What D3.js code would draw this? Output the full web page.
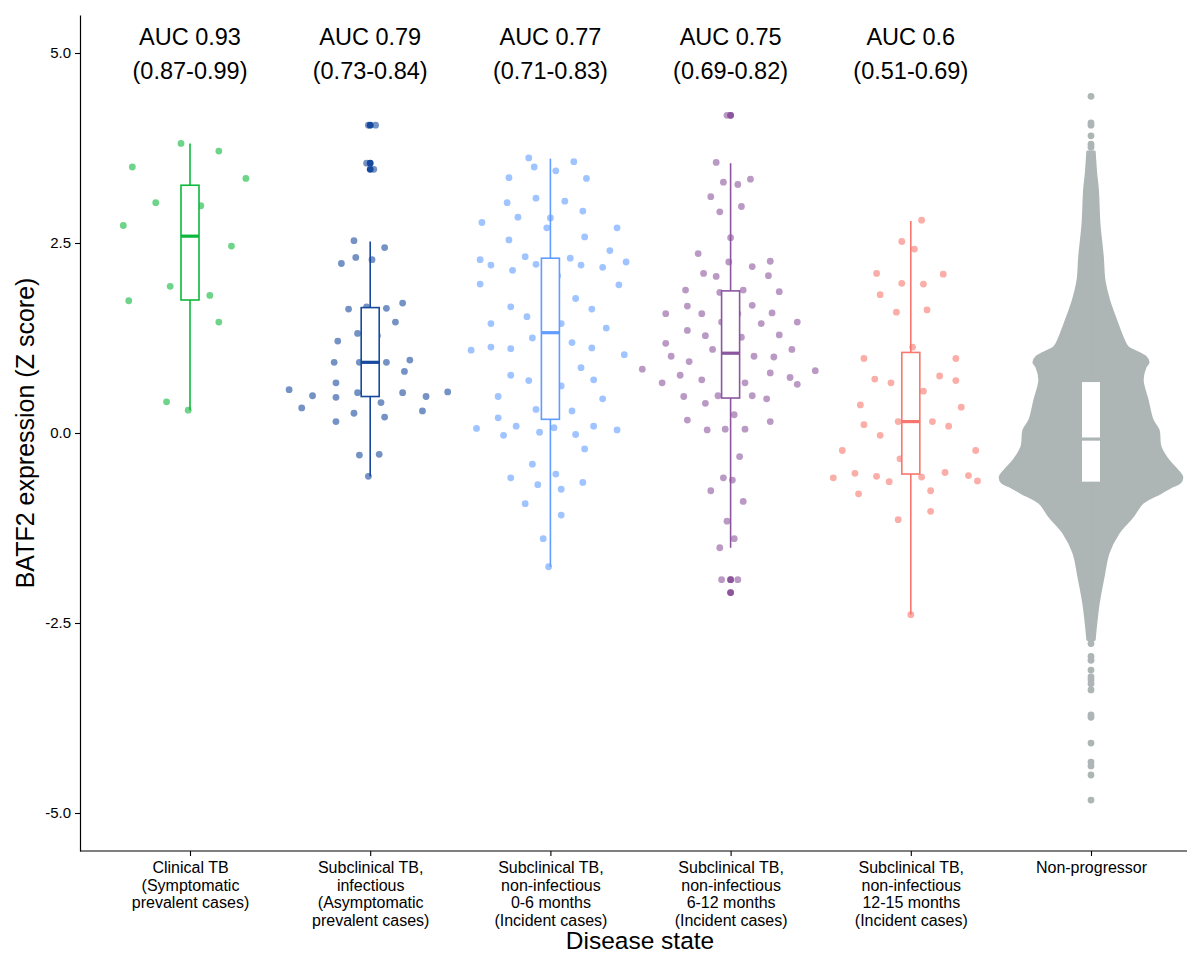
<!DOCTYPE html>
<html>
<head>
<meta charset="utf-8">
<script src="https://cdn.jsdelivr.net/npm/d3@7/dist/d3.min.js"></script>
<style>
  body { margin: 0; background: #ffffff; }
  svg { display: block; }
  text { font-family: "Liberation Sans", Arial, Helvetica, sans-serif; }
</style>
</head>
<body>
<svg id="chart" width="1187" height="955"></svg>
<script>
// ---------------- DATA ----------------
const categories = ["clinical", "subInfectious", "nonInf0to6", "nonInf6to12", "nonInf12to15", "nonProgressor"];
const categoryLabels = [
  ["Clinical TB", "(Symptomatic", "prevalent cases)"],
  ["Subclinical TB,", "infectious", "(Asymptomatic", "prevalent cases)"],
  ["Subclinical TB,", "non-infectious", "0-6 months", "(Incident cases)"],
  ["Subclinical TB,", "non-infectious", "6-12 months", "(Incident cases)"],
  ["Subclinical TB,", "non-infectious", "12-15 months", "(Incident cases)"],
  ["Non-progressor"]
];
const groupColors = ["#0DB83C", "#174A9C", "#619CFF", "#8C569F", "#F8766D", "#ADB5B5"];
const aucValues = ["0.93", "0.79", "0.77", "0.75", "0.6"];
const aucCI = ["0.87-0.99", "0.73-0.84", "0.71-0.83", "0.69-0.82", "0.51-0.69"];
const yTicks = [-5, -2.5, 0, 2.5, 5];
const yTickLabels = ["-5.0", "-2.5", "0.0", "2.5", "5.0"];
const yTitle = "BATF2 expression (Z score)";
const xTitle = "Disease state";

// jittered points: [Z score, horizontal jitter in % of category step]
const clinicalPoints = [
  [3.81,-5],[3.71,16],[3.50,-32],[3.35,31],[3.03,-19],[2.99,6],[2.73,-37],[2.46,23],
  [1.93,-11],[1.74,-34],[1.81,11],[1.46,16],[0.41,-13],[0.30,-1]
];
const infectiousPoints = [
  [4.05,-1],[4.05,3],[3.55,-2],[3.47,2],
  [2.53,-9],[2.44,8],[2.31,-8],[2.23,-16],[2.28,1],[1.63,-12],[1.66,-2],[1.64,9],[1.71,18],
  [1.46,14],[1.21,-18],[1.31,-7],[1.28,4],[0.93,-20],[0.93,-6],[0.93,9],[0.96,22],[0.81,19],
  [0.66,-19],[0.57,-45],[0.49,-32],[0.47,-19],[0.53,-7],[0.53,18],[0.48,31],[0.54,43],
  [0.33,-38],[0.40,6],[0.29,29],[0.26,-9],[0.21,8],[0.15,-19],[-0.29,-6],[-0.28,5],[-0.57,-1]
];
const nonInf0to6Points = [
  [3.62,-12],[3.50,-9],[3.57,13],[3.45,3],[3.36,-23],[3.35,20],[3.03,-24],[3.09,-8],[3.05,8],
  [2.92,18],[2.84,-18],[2.83,0],[2.77,-38],[2.70,-2],[2.70,37],[2.58,19],[2.54,-23],[2.40,33],
  [2.28,-39],[2.21,-33],[2.32,-14],[2.14,-21],[2.22,-8],[2.30,11],[2.21,17],[2.18,29],[2.25,42],
  [2.07,4],[1.96,-39],[1.95,38],[1.77,14],[1.66,-22],[1.63,23],[1.53,-13],[1.44,6],[1.44,-33],
  [1.38,31],[1.25,-10],[1.19,12],[1.09,-44],[1.13,-33],[1.11,-22],[1.12,23],[1.03,41],[0.86,17],
  [0.76,-22],[0.69,-12],[0.62,6],[0.70,24],[0.48,-29],[0.45,29],[0.31,-8],[0.29,12],[0.20,-29],
  [0.06,-41],[-0.03,-26],[0.09,-19],[0.01,-6],[0.07,2],[-0.02,14],[0.09,24],[0.04,37],[-0.21,19],
  [-0.41,-10],[-0.54,3],[-0.59,-22],[-0.68,-7],[-0.74,6],[-0.65,18],[-0.93,-14],[-1.08,6],
  [-1.39,-4],[-1.76,-1]
];
const nonInf6to12Points = [
  [4.18,-2],[4.18,0],[3.56,-8],[3.30,-4],[3.27,4],[3.34,11],[3.11,-11],[2.98,6],[2.91,-6],
  [2.57,0],[2.36,-18],[2.25,-1],[2.19,12],[2.26,22],[2.10,-15],[2.06,-8],[2.07,21],[1.88,-25],
  [1.85,-6],[1.88,7],[1.86,27],[1.57,-36],[1.67,-24],[1.57,-16],[1.57,4],[1.68,12],[1.58,23],
  [1.46,37],[1.44,17],[1.35,-24],[1.28,-14],[1.46,-5],[1.26,6],[1.29,27],[1.18,-36],[1.10,-10],
  [1.10,34],[1.01,-33],[0.94,-23],[1.01,13],[1.00,24],[0.84,-49],[0.82,47],[0.76,-28],[0.70,-16],
  [0.79,22],[0.73,33],[0.66,-38],[0.66,8],[0.64,37],[0.48,-26],[0.49,-7],[0.49,12],[0.45,20],
  [0.39,-14],[0.24,2],[0.17,-24],[0.04,-13],[0.05,-3],[0.05,8],[0.15,22],[-0.31,5],[-0.59,-4],
  [-0.62,1],[-0.76,-11],[-0.90,7],[-1.16,-2],[-1.39,2],[-1.51,-6],[-1.93,-5],[-1.93,4],
  [-1.93,0],[-2.10,0]
];
const nonInf12to15Points = [
  [2.80,6],[2.52,-5],[2.42,2],[2.10,-19],[2.09,18],[1.97,-5],[1.96,7],[1.82,-17],[1.59,-8],
  [1.62,9],[1.13,1],[0.98,-26],[0.98,25],[0.71,-20],[0.66,-11],[0.75,16],[0.69,25],[0.55,7],
  [0.37,-28],[0.34,28],[0.11,-26],[0.15,-7],[0.15,12],[0.09,21],[-0.03,-17],[-0.23,-38],
  [-0.23,36],[-0.34,-6],[-0.59,-43],[-0.53,-31],[-0.57,-19],[-0.64,-12],[-0.58,6],[-0.52,19],
  [-0.56,32],[-0.63,37],[-0.80,-29],[-0.76,11],[-1.03,11],[-1.14,-7],[-2.39,0]
];
const groupPoints = [clinicalPoints, infectiousPoints, nonInf0to6Points, nonInf6to12Points, nonInf12to15Points];

// boxplot statistics per category
const boxLower  = [0.30, -0.57, -1.76, -1.51, -2.39, -2.60];
const boxQ1     = [1.75,  0.48,  0.18,  0.46, -0.54, -0.64];
const boxMedian = [2.59,  0.93,  1.32,  1.05,  0.15, -0.08];
const boxQ3     = [3.26,  1.65,  2.30,  1.87,  1.06,  0.67];
const boxUpper  = [3.81,  2.52,  3.61,  3.55,  2.79,  2.60];
const boxOutliers = [[], [4.05, 3.55, 3.47], [], [4.18, -1.93, -2.10], [], []];

// Non-progressor: dense swarm outline (Z score, relative density) and isolated tail points
const npProfileValue = [3.70, 3.42, 3.20, 2.76, 2.32, 2.01, 1.75, 1.49, 1.22, 1.13, 1.00, 0.93, 0.87,
  0.70, 0.43, 0.17, 0.04, -0.18, -0.36, -0.49, -0.58, -0.65, -0.71, -0.79, -0.92, -1.10, -1.32,
  -1.58, -1.89, -2.24, -2.55, -2.72];
const npProfileDensity = [0.038, 0.054, 0.073, 0.090, 0.127, 0.145, 0.196, 0.272, 0.359, 0.402, 0.598,
  0.630, 0.598, 0.565, 0.620, 0.674, 0.739, 0.761, 0.848, 0.946, 1.000, 0.978, 0.880, 0.761, 0.565,
  0.457, 0.299, 0.190, 0.136, 0.082, 0.051, 0.038];
const npTailPoints = [4.43, 4.08, 4.05, 3.91, 3.80, 3.76,
  -2.77, -2.94, -2.99, -3.12, -3.21, -3.25, -3.30, -3.38, -3.71, -3.74, -4.08, -4.33, -4.38, -4.50, -4.83];

// ---------------- CHART ----------------
const svg = d3.select("#chart");
const panel = { left: 80, top: 15, bottom: 851, right: 1187 };

const y = d3.scaleLinear().domain([-5.5, 5.5]).range([panel.bottom, panel.top]);
const x = d3.scalePoint().domain(categories).range([190, 1091]);
const step = x.step();
const boxW = 0.1 * step;
const ptR = 3.4;

const plot = svg.append("g");

// Non-progressor swarm
const npCat = categories[5];
const npCx = x(npCat);
const widthScale = d3.scaleLinear().domain([0, 1]).range([0, 0.505 * step]);
const profile = npProfileValue.map((v, i) => ({ v, d: npProfileDensity[i] }));
plot.append("path")
  .datum(profile)
  .attr("d", d3.area()
    .y(d => y(d.v))
    .x0(d => npCx - widthScale(d.d))
    .x1(d => npCx + widthScale(d.d))
    .curve(d3.curveCatmullRom))
  .attr("fill", groupColors[5])
  .attr("stroke", groupColors[5])
  .attr("stroke-width", 2.5)
  .attr("stroke-linejoin", "round");
plot.append("g").selectAll("circle")
  .data(npTailPoints)
  .join("circle")
  .attr("cx", npCx)
  .attr("cy", d => y(d))
  .attr("r", ptR)
  .attr("fill", groupColors[5]);

// jittered points for the other groups
groupPoints.forEach((pts, gi) => {
  const cx = x(categories[gi]);
  plot.append("g").selectAll("circle")
    .data(pts)
    .join("circle")
    .attr("cx", d => cx + d[1] / 100 * step)
    .attr("cy", d => y(d[0]))
    .attr("r", ptR)
    .attr("fill", groupColors[gi])
    .attr("fill-opacity", 0.6);
});

// boxplots
categories.forEach((cat, i) => {
  const cx = x(cat);
  const g = plot.append("g");
  const col = groupColors[i];
  g.append("line")
    .attr("x1", cx).attr("x2", cx)
    .attr("y1", y(boxUpper[i])).attr("y2", y(boxQ3[i]))
    .attr("stroke", col).attr("stroke-width", 1.6);
  g.append("line")
    .attr("x1", cx).attr("x2", cx)
    .attr("y1", y(boxQ1[i])).attr("y2", y(boxLower[i]))
    .attr("stroke", col).attr("stroke-width", 1.6);
  g.append("rect")
    .attr("x", cx - boxW / 2)
    .attr("width", boxW)
    .attr("y", y(boxQ3[i]))
    .attr("height", y(boxQ1[i]) - y(boxQ3[i]))
    .attr("fill", "#ffffff")
    .attr("stroke", i === 5 ? "#ffffff" : col)
    .attr("stroke-width", i === 5 ? 0 : 1.6);
  g.append("line")
    .attr("x1", cx - boxW / 2).attr("x2", cx + boxW / 2)
    .attr("y1", y(boxMedian[i])).attr("y2", y(boxMedian[i]))
    .attr("stroke", col).attr("stroke-width", 3.2);
  g.selectAll("circle.out")
    .data(boxOutliers[i])
    .join("circle")
    .attr("class", "out")
    .attr("cx", cx)
    .attr("cy", d => y(d))
    .attr("r", ptR)
    .attr("fill", col);
});

// AUC annotations
aucValues.forEach((v, i) => {
  const cx = x(categories[i]);
  svg.append("text").attr("x", cx).attr("y", 45)
    .attr("text-anchor", "middle").attr("font-size", 23.5).attr("fill", "#000")
    .text("AUC " + v);
  svg.append("text").attr("x", cx).attr("y", 79)
    .attr("text-anchor", "middle").attr("font-size", 23.5).attr("fill", "#000")
    .text("(" + aucCI[i] + ")");
});

// Y axis
const yAxis = d3.axisLeft(y)
  .tickValues(yTicks)
  .tickFormat((d, i) => yTickLabels[i])
  .tickSize(5)
  .tickPadding(4)
  .tickSizeOuter(0);
const yg = svg.append("g").attr("transform", `translate(${panel.left},0)`).call(yAxis);
yg.select(".domain").attr("stroke", "#000").attr("stroke-width", 1.2);
yg.selectAll(".tick line").attr("stroke", "#000").attr("stroke-width", 1.1);
yg.selectAll(".tick text").attr("font-size", 15).attr("fill", "#000")
  .attr("font-family", "'Liberation Sans', Arial, sans-serif");

// X axis
const xAxis = d3.axisBottom(x).tickSize(5).tickFormat("").tickSizeOuter(0);
const xg = svg.append("g").attr("transform", `translate(0,${panel.bottom})`).call(xAxis);
xg.select(".domain").attr("d", `M${panel.left},0H${panel.right + 20}`)
  .attr("stroke", "#000").attr("stroke-width", 1.2);
xg.selectAll(".tick line").attr("stroke", "#000").attr("stroke-width", 1.1);
xg.selectAll(".tick").each(function (d, i) {
  const t = d3.select(this).append("text")
    .attr("text-anchor", "middle")
    .attr("font-size", 16)
    .attr("fill", "#000")
    .attr("font-family", "'Liberation Sans', Arial, sans-serif");
  categoryLabels[i].forEach((line, li) => {
    t.append("tspan").attr("x", 0).attr("y", 22 + li * 17.5).text(line);
  });
});

// axis titles
svg.append("text")
  .attr("x", 640).attr("y", 949)
  .attr("text-anchor", "middle").attr("font-size", 24.5).attr("fill", "#000")
  .text(xTitle);
svg.append("text")
  .attr("transform", `translate(34,${y(0)}) rotate(-90)`)
  .attr("text-anchor", "middle").attr("font-size", 25).attr("fill", "#000")
  .text(yTitle);
</script>
</body>
</html>
